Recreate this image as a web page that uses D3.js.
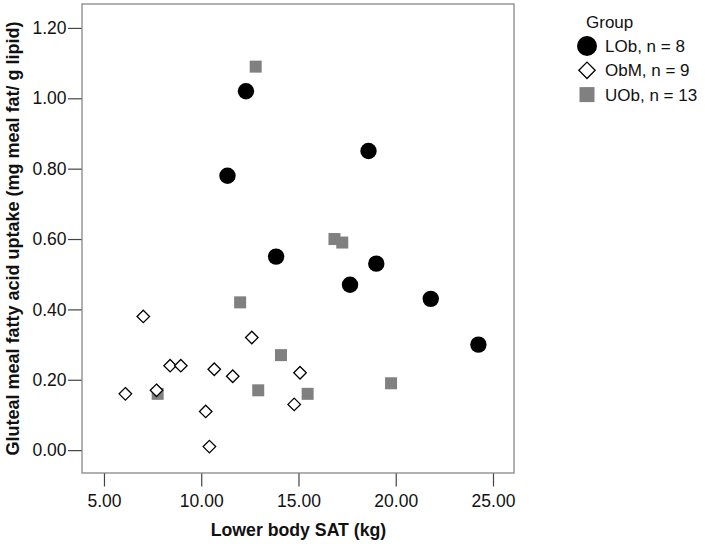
<!DOCTYPE html>
<html>
<head>
<meta charset="utf-8">
<script src="https://cdn.jsdelivr.net/npm/d3@7"></script>
<style>
  body { margin: 0; background: #fff; }
  text { font-family: "Liberation Sans", Arial, sans-serif; }
</style>
</head>
<body>
<svg class="scatter" width="705" height="544"></svg>
<script>
/* values: lower body SAT (kg) and gluteal uptake */
var lobX = [12.3, 11.35, 13.85, 18.6, 19.0, 17.65, 21.8, 24.25];
var lobY = [1.02, 0.78, 0.55, 0.85, 0.53, 0.47, 0.43, 0.30];

var obmX = [7.02, 6.1, 7.7, 8.4, 8.95, 10.67, 10.23, 10.42, 11.62, 12.6, 15.08, 14.78];
var obmY = [0.38, 0.16, 0.17, 0.24, 0.24, 0.23, 0.11, 0.01, 0.21, 0.32, 0.22, 0.13];

var uobX = [12.8, 12.0, 14.1, 12.93, 7.76, 15.47, 19.76, 16.85, 17.25];
var uobY = [1.09, 0.42, 0.27, 0.17, 0.16, 0.16, 0.19, 0.60, 0.59];

var xTicks = [5, 10, 15, 20, 25];
var yTicks = [0, 0.2, 0.4, 0.6, 0.8, 1.0, 1.2];

var groups = ["LOb", "ObM", "UOb"];
var legendLabels = ["LOb, n = 8", "ObM, n = 9", "UOb, n = 13"];

var svg = d3.select(".scatter"),
    margin = {top: 4, right: 191, bottom: 71, left: 82},
    width = +svg.attr("width") - margin.left - margin.right,
    height = +svg.attr("height") - margin.top - margin.bottom;

var x = d3.scaleLinear().domain([3.87, 26.08]).range([0, width]),
    y = d3.scaleLinear().domain([-0.065, 1.268]).range([height, 0]);

var g = svg.append("g")
    .attr("transform", "translate(" + margin.left + "," + margin.top + ")");

/* axes, ticks outside the frame */
var xAxis = g.append("g")
    .attr("transform", "translate(0," + height + ")")
    .call(d3.axisBottom(x).tickValues(xTicks).tickSize(13.5).tickPadding(8.5).tickFormat(d3.format(".2f")));

var yAxis = g.append("g")
    .call(d3.axisLeft(y).tickValues(yTicks).tickSize(14).tickPadding(1.5).tickFormat(d3.format(".2f")));

[xAxis, yAxis].forEach(function(a) {
  a.select(".domain").remove();
  a.selectAll("line").attr("stroke", "#444").attr("stroke-width", 1.2);
  a.selectAll("text").attr("fill", "#111").style("font-size", "17.5px");
});

/* frame */
g.append("rect")
    .attr("width", width)
    .attr("height", height)
    .attr("fill", "none")
    .attr("stroke", "#888")
    .attr("stroke-width", 1.3);

/* points: squares first, then diamonds, then circles */
var uob = uobX.map(function(v, i) { return {x: v, y: uobY[i]}; });
var obm = obmX.map(function(v, i) { return {x: v, y: obmY[i]}; });
var lob = lobX.map(function(v, i) { return {x: v, y: lobY[i]}; });

g.selectAll(".uob")
  .data(uob)
  .enter().append("rect")
    .attr("class", "uob")
    .attr("x", function(d) { return x(d.x) - 6; })
    .attr("y", function(d) { return y(d.y) - 6; })
    .attr("width", 12)
    .attr("height", 12)
    .attr("fill", "#808080");

var diamond = d3.symbol().type(d3.symbolDiamond2).size(100);

g.selectAll(".obm")
  .data(obm)
  .enter().append("path")
    .attr("class", "obm")
    .attr("d", diamond)
    .attr("transform", function(d) { return "translate(" + x(d.x) + "," + y(d.y) + ")"; })
    .attr("fill", "#fff")
    .attr("stroke", "#000")
    .attr("stroke-width", 1.3);

g.selectAll(".lob")
  .data(lob)
  .enter().append("circle")
    .attr("class", "lob")
    .attr("cx", function(d) { return x(d.x); })
    .attr("cy", function(d) { return y(d.y); })
    .attr("r", 8.2)
    .attr("fill", "#000");

/* axis titles */
svg.append("text")
    .attr("x", margin.left + x(15))
    .attr("y", 536)
    .attr("text-anchor", "middle")
    .style("font-size", "17.7px")
    .style("font-weight", "bold")
    .attr("fill", "#111")
    .text("Lower body SAT (kg)");

svg.append("text")
    .attr("transform", "translate(19," + (margin.top + height / 2) + ") rotate(-90)")
    .attr("text-anchor", "middle")
    .style("font-size", "18px")
    .style("font-weight", "bold")
    .attr("fill", "#111")
    .text("Gluteal meal fatty acid uptake (mg meal fat/ g lipid)");

/* legend */
var legend = svg.append("g").attr("transform", "translate(587,0)");

legend.append("text")
    .attr("x", -1)
    .attr("y", 28)
    .style("font-size", "17px")
    .attr("fill", "#111")
    .text("Group");

var row = legend.selectAll(".row")
  .data(groups)
  .enter().append("g")
    .attr("class", "row")
    .attr("transform", function(d, i) { return "translate(0," + (46 + i * 24.3) + ")"; });

row.each(function(d, i) {
  var r = d3.select(this);
  if (d == "LOb") {
    r.append("circle").attr("r", 10).attr("fill", "#000");
  } else if (d == "ObM") {
    r.append("path")
      .attr("d", d3.symbol().type(d3.symbolDiamond2).size(170))
      .attr("fill", "#fff").attr("stroke", "#000").attr("stroke-width", 1.3);
  } else {
    r.append("rect").attr("x", -7.5).attr("y", -7.5).attr("width", 15).attr("height", 15).attr("fill", "#808080");
  }
  r.append("text")
    .attr("x", 18)
    .attr("dy", "0.36em")
    .style("font-size", "17px")
    .attr("fill", "#111")
    .text(legendLabels[i]);
});
</script>
</body>
</html>
